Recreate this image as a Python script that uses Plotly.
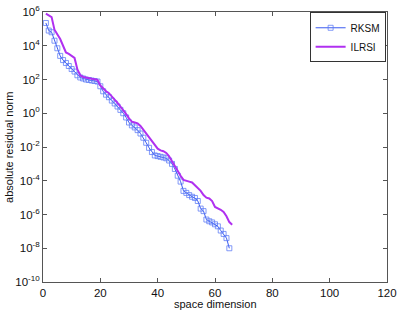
import plotly.graph_objects as go

# space dimension for each method
rksm_dim = list(range(1, 66))
ilrsi_dim = list(range(1, 67))

# log10 of absolute residual norm
rksm_log10 = [5.35, 4.9, 4.8, 4.3, 3.85, 3.4, 3.15, 2.98, 2.8, 2.62,
              2.47, 2.25, 2.12, 2.06, 2.0, 1.97, 1.94, 1.91, 1.88, 1.6,
              1.3, 1.1, 0.95, 0.75, 0.58, 0.4, 0.2, 0.0, -0.25, -0.55,
              -0.72, -0.84, -1.0, -1.2, -1.45, -1.75, -2.05, -2.3, -2.5, -2.54,
              -2.58, -2.62, -2.67, -2.8, -3.0, -3.3, -3.7, -4.05, -4.6, -4.72,
              -4.85, -4.95, -5.02, -5.2, -5.65, -5.8, -6.3, -6.4, -6.47, -6.58,
              -6.7, -6.95, -7.15, -7.4, -8.0]
ilrsi_log10 = [5.9, 5.8, 5.7, 4.95, 4.7, 4.4, 4.0, 3.6, 3.52, 3.42,
               3.28, 2.6, 2.25, 2.15, 2.1, 2.07, 2.04, 2.02, 1.98, 1.65,
               1.45, 1.3, 1.19, 1.0, 0.85, 0.62, 0.4, 0.2, -0.05, -0.3,
               -0.5, -0.55, -0.6, -0.75, -0.98, -1.2, -1.4, -1.6, -1.85, -2.1,
               -2.2, -2.25, -2.35, -2.55, -2.85, -3.15, -3.4, -3.7, -3.95, -4.02,
               -4.05, -4.1, -4.25, -4.45, -4.6, -4.85, -5.0, -5.05, -5.2, -5.55,
               -5.62, -5.72, -5.85, -6.1, -6.45, -6.6]

y_exponents = [6, 4, 2, 0, -2, -4, -6, -8, -10]
x_ticks = [0, 20, 40, 60, 80, 100, 120]

x_title = "space dimension"
y_title = "absolute residual norm"

rksm = [10 ** v for v in rksm_log10]
ilrsi = [10 ** v for v in ilrsi_log10]

FONT = "Liberation Sans, Arial, sans-serif"

fig = go.Figure()
fig.add_trace(go.Scatter(
    x=rksm_dim, y=rksm, name="RKSM", mode="lines+markers",
    line=dict(color="#3b5bf0", width=1),
    marker=dict(symbol="square-open", size=5, color="rgba(90,120,245,0.75)",
                line=dict(width=1)),
))
fig.add_trace(go.Scatter(
    x=ilrsi_dim, y=ilrsi, name="ILRSI", mode="lines",
    line=dict(color="#b030f0", width=2),
))

axis_common = dict(
    showline=True, linecolor="#555555", linewidth=1, mirror="ticks",
    ticks="inside", ticklen=4, tickcolor="#555555",
    showgrid=False, zeroline=False, automargin=False,
    tickfont=dict(family=FONT, size=11.5, color="#111"),
)

fig.update_layout(
    width=399, height=310,
    margin=dict(l=43, r=12, t=12, b=28),
    paper_bgcolor="white", plot_bgcolor="white",
    font=dict(family=FONT, size=11, color="#111"),
    xaxis=dict(range=[0, 120], tickvals=x_ticks, **axis_common),
    yaxis=dict(type="log", range=[-10, 6],
               tickvals=[10 ** e for e in y_exponents],
               ticktext=["10<sup>%d</sup>" % e for e in y_exponents],
               **axis_common),
    legend=dict(x=0.996, y=0.999, xanchor="right", yanchor="top",
                bgcolor="white", bordercolor="#333", borderwidth=1,
                font=dict(size=10), tracegroupgap=0,
                itemwidth=30),
    showlegend=True,
    annotations=[
        dict(text=x_title, xref="paper", yref="paper", x=0.5, y=-0.08,
             xanchor="center", yanchor="middle", showarrow=False,
             font=dict(family=FONT, size=11, color="#111")),
        dict(text=y_title, xref="paper", yref="paper", x=-0.099, y=0.5,
             xanchor="center", yanchor="middle", showarrow=False,
             textangle=-90, font=dict(family=FONT, size=11, color="#111")),
    ],
)

fig.write_html("out.html", config={"displayModeBar": False},
               post_script="document.body.style.margin='0';document.body.style.padding='0';")
